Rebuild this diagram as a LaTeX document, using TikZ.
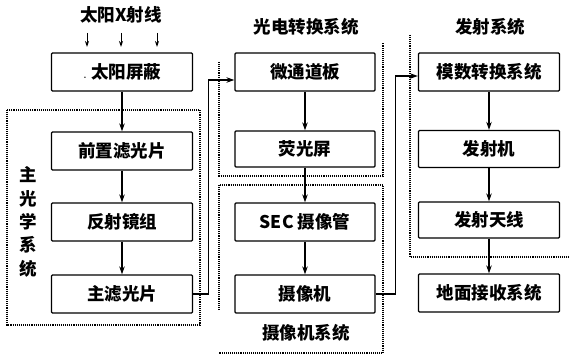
\documentclass[tikz,border=0pt]{standalone}
\usepackage{fontspec}
\newfontfamily\cjk{Noto Sans CJK SC}
\usetikzlibrary{arrows.meta}
\begin{document}
\begin{tikzpicture}[x=1pt,y=-1pt,
  every node/.style={font=\cjk\bfseries\fontsize{17.5}{19}\selectfont},
  blk/.style={draw,line width=1.3pt,minimum width=141pt,minimum height=38pt,inner sep=0pt,rounded corners=1pt},
  ttl/.style={inner sep=0pt},
  arr/.style={line width=1.2pt,-{Stealth[length=8pt,width=5.5pt]}},
  frame/.style={densely dotted,line width=1.1pt}]
\useasboundingbox (0,0) rectangle (569,358);
% column 1
\node[ttl] (t1) at (121,15) {太阳X射线};
\node[blk] (a1) at (122,72) {{\normalfont .}\ 太阳屏蔽};
\node[blk] (a2) at (122,151) {前置滤光片};
\node[blk] (a3) at (122,222) {反射镜组};
\node[blk] (a4) at (122,294) {主滤光片};
\node[ttl,align=center,font=\cjk\bfseries\fontsize{17.5}{23.3}\selectfont] (lab) at (28,222) {主\\光\\学\\系\\统};
% column 2
\node[ttl] (t2) at (306,27) {光电转换系统};
\node[blk,minimum width=140pt] (b1) at (305,72) {微通道板};
\node[blk,minimum width=140pt,minimum height=36pt] (b2) at (305,149) {荧光屏};
\node[blk,minimum width=140pt] (b3) at (305,222) {SEC 摄像管};
\node[blk,minimum width=140pt] (b4) at (305,294) {摄像机};
\node[ttl] (t3) at (306,333) {摄像机系统};
% column 3
\node[ttl] (t4) at (490,27) {发射系统};
\node[blk] (c1) at (489,72) {模数转换系统};
\node[blk,minimum height=37pt] (c2) at (489,149) {发射机};
\node[blk,minimum height=36pt] (c3) at (489,220) {发射天线};
\node[blk] (c4) at (489,293) {地面接收系统};
% input arrows
\coordinate (i1) at (87,33); \coordinate (i2) at (121,33); \coordinate (i3) at (157,33);
\coordinate (j1) at (87,47); \coordinate (j2) at (121,47); \coordinate (j3) at (157,47);
\draw[line width=1pt,-{Stealth[length=6pt,width=4pt]}] (i1) -- (j1);
\draw[line width=1pt,-{Stealth[length=6pt,width=4pt]}] (i2) -- (j2);
\draw[line width=1pt,-{Stealth[length=6pt,width=4pt]}] (i3) -- (j3);
% flows
\draw[arr] (a1) -- (a2);
\draw[arr] (a2) -- (a3);
\draw[arr] (a3) -- (a4);
\draw[arr] (b1) -- (b2);
\draw[arr] (b2) -- (b3);
\draw[arr] (b3) -- (b4);
\draw[arr] (c1) -- (c2);
\draw[arr] (c2) -- (c3);
\draw[arr] (c3) -- (c4);
\draw[arr] (a4.east) -- ++(15,0) |- ([yshift=-8pt]b1.west);
\draw[arr] (b4.east) -- ++(20,0) |- ([yshift=-4pt]c1.west);
% dotted frames
\draw[frame] (7,110) rectangle (200,325);
\draw[frame] (219,62) -- (219,176) -- (383,176) -- (383,43);
\draw[frame] (219,310) -- (219,185) -- (383,185) -- (383,353) -- (219,353);
\draw[frame] (410,35) -- (410,257) -- (569,257);
\end{tikzpicture}
\end{document}
